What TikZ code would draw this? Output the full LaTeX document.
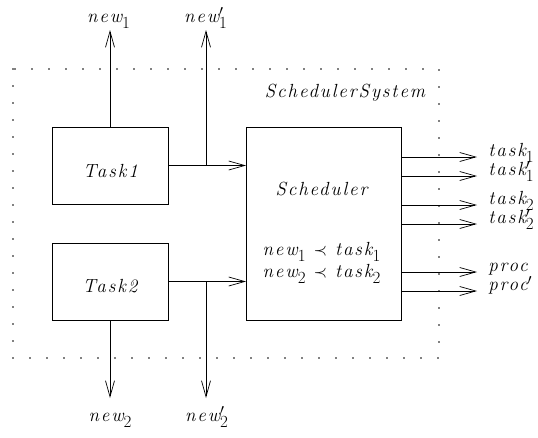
\documentclass[tikz,border=0pt]{standalone}
\usepackage{fontspec}
\usetikzlibrary{arrows.meta}
\newfontfamily\spit{Latin Modern Roman}[LetterSpace=10]
\newcommand{\lsub}[1]{\raisebox{-6pt}{\fontsize{17}{17}\selectfont\upshape #1}}
\newcommand{\lpr}{\rlap{$^{\prime}$}}
\begin{document}
\begin{tikzpicture}[x=1pt,y=-1pt,line width=0.7pt,
  >={Straight Barb[length=16pt,width=9pt]},
  lab/.style={font=\fontsize{19}{22}\selectfont\spit\itshape, inner sep=0pt},
  boxn/.style={draw, inner sep=0pt, outer sep=0pt, minimum width=116pt, minimum height=77pt},
  frame/.style={line width=1.7pt, line cap=round, dash pattern=on 0pt off 17pt}]
\useasboundingbox (0,0) rectangle (538,437);
% frame
\draw[frame] (13,69) rectangle (439,358);
\node[lab, anchor=base] (sys) at (345,97) {SchedulerSystem};
% boxes
\node[boxn] (t1) at (110,165.5) {};
\node[boxn] (t2) at (110,281.5) {};
\node[lab, anchor=base] (t1l) at (110.5,177) {Task1};
\node[lab, anchor=base] (t2l) at (110,292) {Task2};
\node[draw, inner sep=0pt, outer sep=0pt, minimum width=155pt, minimum height=193pt] (s) at (323.5,223.5) {};
\node[lab, anchor=base] (sl) at (321.5,195) {Scheduler};
\node[lab, anchor=base] (c1) at (321.5,255) {new\lsub{1}\hspace{8pt}$\prec$\hspace{8pt}task\lsub{1}};
\node[lab, anchor=base] (c2) at (321.5,277) {new\lsub{2}\hspace{8pt}$\prec$\hspace{8pt}task\lsub{2}};
% coordinates
\coordinate (n1) at (110,30);
\coordinate (b1) at (206,165.5);
\coordinate (n1p) at (206,30);
\coordinate (n2) at (110,398);
\coordinate (b2) at (206,281.5);
\coordinate (n2p) at (206,398);
% task connectors
\draw[->] (t1.north) -- (n1);
\draw[->] (t1.east) -- (t1.east -| s.west);
\draw[->] (b1) -- (n1p);
\draw[->] (t2.south) -- (n2);
\draw[->] (t2.east) -- (t2.east -| s.west);
\draw[->] (b2) -- (n2p);
\node[lab, anchor=base] (ln1) at (108.5,22) {new\lsub{1}};
\node[lab, anchor=base] (ln1p) at (205.5,22) {new\lpr\lsub{1}};
\node[lab, anchor=base] (ln2) at (110,421) {new\lsub{2}};
\node[lab, anchor=base] (ln2p) at (206.5,421) {new\lpr\lsub{2}};
% outputs
\coordinate (o1) at (477,157);
\coordinate (o2) at (477,176);
\coordinate (o3) at (477,205);
\coordinate (o4) at (477,224);
\coordinate (o5) at (477,272);
\coordinate (o6) at (477,291);
\foreach \o/\t/\n in {o1/task\lsub{1}/l1, o2/task\lpr\lsub{1}/l2, o3/task\lsub{2}/l3, o4/task\lpr\lsub{2}/l4, o5/proc/l5, o6/proc$^{\prime}$/l6}{
  \draw[->] (s.east |- \o) -- (\o);
  \node[lab, anchor=base west] (\n) at ([xshift=11pt,yshift=0.5pt]\o) {\t};
}
\end{tikzpicture}
\end{document}
